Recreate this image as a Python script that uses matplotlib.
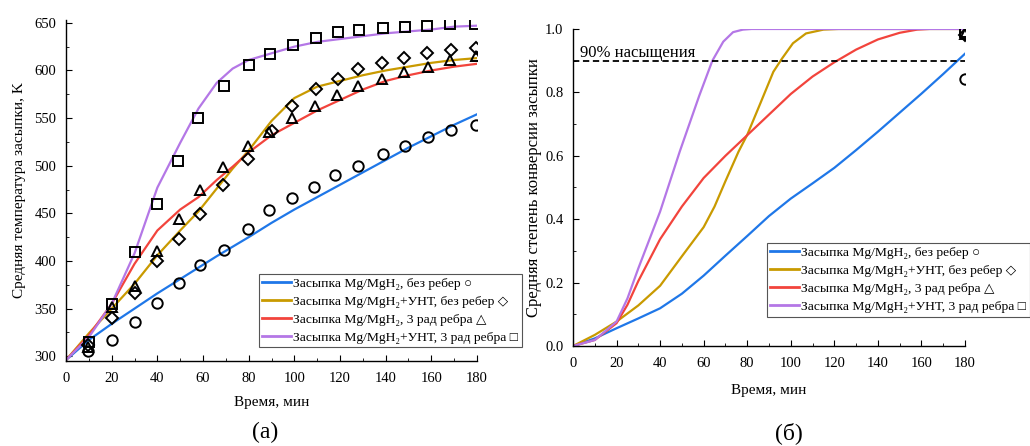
import matplotlib
matplotlib.use("Agg")
import matplotlib.pyplot as plt
from matplotlib.ticker import MultipleLocator
from matplotlib.lines import Line2D

plt.rcParams['font.family'] = ['Liberation Serif', 'DejaVu Sans']

# ---------------- data: panel (a) ----------------
t_line = [0, 10, 20, 30, 40, 50, 58, 66, 73, 80, 90, 100, 110, 120, 130, 140, 150, 160, 170, 180]
T_blue = [296, 317, 334, 350, 366, 381, 393, 405, 415, 425, 440, 454, 467, 480, 493, 506, 519, 531, 543, 554]
T_gold = [296, 324, 350, 376, 406, 432, 452, 476, 497, 516, 547, 571, 583, 589, 595, 600, 604, 608, 611, 613]
T_red = [296, 322, 355, 397, 432, 454, 467, 485, 499, 514, 532, 545, 558, 569, 580, 589, 595, 600, 604, 607]
T_purple = [296, 320, 355, 408, 477, 524, 560, 587, 602, 611, 618, 625, 630, 633, 636, 639, 641, 643, 646, 647]

t_circ = [9.8, 20, 30, 40, 49.5, 58.7, 69, 79.6, 89, 99, 108.6, 118, 128, 138.7, 148.6, 158.5, 168.6, 179.6]
T_circ = [305, 317, 336, 356, 377, 396, 412, 434, 453, 466, 478, 490, 500, 512, 521, 530, 537, 543]
t_diam = [9.8, 20, 30, 40, 49.5, 58.7, 68.9, 79.6, 90, 99, 109.6, 119, 128, 138.4, 148, 158, 168.5, 179.6]
T_diam = [312, 340, 366, 400, 423, 449, 480, 507, 536, 563, 581, 591, 602, 608, 613, 618, 622, 624]
t_tri = [9.8, 20, 30, 39.7, 49.3, 58.7, 68.9, 79.6, 89, 99, 109, 118.8, 128, 138.4, 148, 158.4, 168.3, 179.4]
T_tri = [310, 352, 374, 410, 444, 474, 499, 521, 535, 550, 563, 574, 584, 591, 598, 604, 611, 615]
t_sq = [9.9, 20, 30.4, 40, 49.2, 58, 69.3, 80.3, 89.5, 99.6, 109.5, 119.1, 128.5, 138.7, 148.5, 158.2, 168.3, 179.3]
T_sq = [315, 355, 409, 460, 505, 550, 584, 606, 617, 627, 634, 640, 643, 645, 646, 647, 649, 649]

# ---------------- data: panel (б) ----------------
t_blue_c = [0, 10, 20, 30, 40, 50, 60, 70, 80, 90, 100, 110, 120, 130, 140, 150, 160, 170, 180]
X_blue = [0, 0.024, 0.056, 0.087, 0.119, 0.165, 0.222, 0.285, 0.347, 0.41, 0.465, 0.513, 0.562, 0.618, 0.676, 0.736, 0.796, 0.858, 0.922]
t_gold_c = [0, 10, 20, 30, 40, 50, 60, 65, 70, 76, 80, 86, 92, 96, 101, 107, 115, 122, 180]
X_gold = [0, 0.035, 0.077, 0.128, 0.19, 0.283, 0.375, 0.44, 0.52, 0.613, 0.666, 0.765, 0.865, 0.907, 0.955, 0.986, 0.998, 1.0, 1.0]
t_red_c = [0, 10, 20, 25, 30, 40, 50, 60, 70, 80, 90, 100, 110, 120, 130, 140, 150, 158, 163]
X_red = [0, 0.019, 0.072, 0.13, 0.205, 0.337, 0.44, 0.53, 0.6, 0.665, 0.73, 0.795, 0.85, 0.895, 0.935, 0.967, 0.988, 0.998, 1.0]
t_purple_c = [0, 10, 20, 25, 30, 40, 49, 58, 64, 69, 73.5, 78, 82, 180]
X_purple = [0, 0.019, 0.077, 0.15, 0.245, 0.424, 0.613, 0.79, 0.9, 0.96, 0.99, 0.998, 1.0, 1.0]

t_end = [180, 180, 180, 180]
X_end = [0.843, 0.98, 0.985, 0.99]

labels = ['Засыпка Mg/MgH₂, без ребер ○',
          'Засыпка Mg/MgH₂+УНТ, без ребер ◇',
          'Засыпка Mg/MgH₂, 3 рад ребра △',
          'Засыпка Mg/MgH₂+УНТ, 3 рад ребра □']
colors = ['#1f77e8', '#c99a00', '#f2443c', '#b477e6']
markers = ['o', 'D', '^', 's']
msizes = [7.5, 6.5, 7.5, 7]

fig = plt.figure(figsize=(10.30, 4.46), dpi=100)
ax1 = fig.add_axes([0.0641, 0.1906, 0.399, 0.7646])
ax2 = fig.add_axes([0.5563, 0.2242, 0.3806, 0.7108])

for ax in (ax1, ax2):
    ax.spines['top'].set_visible(False)
    ax.spines['right'].set_visible(False)
    for s in ('left', 'bottom'):
        ax.spines[s].set_linewidth(1.0)
    ax.tick_params(which='both', direction='in', labelsize=10.5)
    ax.tick_params(which='major', length=4)
    ax.tick_params(which='minor', length=2.5)
    ax.tick_params(axis='x', which='major', pad=8)
    ax.tick_params(axis='y', which='major', pad=7)
    ax.set_xlim(0, 180)
    ax.xaxis.set_major_locator(MultipleLocator(20))
    ax.xaxis.set_minor_locator(MultipleLocator(10))

# panel (a)
for x, y, c in zip([t_line] * 4, [T_blue, T_gold, T_red, T_purple], colors):
    ax1.plot(x, y, color=c, lw=1.6)
for tx, ty, m, ms in zip([t_circ, t_diam, t_tri, t_sq], [T_circ, T_diam, T_tri, T_sq], markers, msizes):
    ax1.plot(tx, ty, linestyle='none', marker=m, ms=ms, mfc='none', mec='black', mew=1.4)
ax1.set_ylim(295, 653)
ax1.yaxis.set_major_locator(MultipleLocator(50))
ax1.yaxis.set_minor_locator(MultipleLocator(25))
ax1.set_ylabel('Средняя температура засыпки, K', fontsize=11, labelpad=6)
ax1.set_xlabel('Время, мин', fontsize=11, labelpad=8)

# panel (б)
for x, y, c in zip([t_blue_c, t_gold_c, t_red_c, t_purple_c], [X_blue, X_gold, X_red, X_purple], colors):
    ax2.plot(x, y, color=c, lw=1.6)
for i, m in enumerate(markers):
    ax2.plot(t_end[i], X_end[i], linestyle='none', marker=m, ms=msizes[i], mfc='none', mec='black', mew=1.4)
ax2.axhline(0.9, xmin=0, xmax=1, color='black', lw=1.3, ls=(0, (3.5, 2)))
ax2.text(3, 0.913, '90% насыщения', fontsize=12)
ax2.set_ylim(0, 1.0)
ax2.yaxis.set_major_locator(MultipleLocator(0.2))
ax2.yaxis.set_minor_locator(MultipleLocator(0.1))
ax2.set_ylabel('Средняя степень конверсии засыпки', fontsize=12, labelpad=2)
ax2.set_xlabel('Время, мин', fontsize=11, labelpad=10)

handles = [Line2D([], [], color=c, lw=2) for c in colors]
for anchor in [(0.2515, 0.386), (0.7447, 0.455)]:
    leg = fig.legend(handles, labels, loc='upper left', bbox_to_anchor=anchor,
                     fontsize=9.7, frameon=True, fancybox=False, framealpha=1,
                     edgecolor='#555555', handlelength=2.1, handletextpad=0.2,
                     labelspacing=0.42, borderpad=0.25, borderaxespad=0)
    leg.get_frame().set_linewidth(0.8)

fig.text(0.2573, 0.03, '(a)', fontsize=17, ha='center', va='center')
fig.text(0.766, 0.03, '(б)', fontsize=17, ha='center', va='center')

fig.savefig('out.png', dpi=100)
